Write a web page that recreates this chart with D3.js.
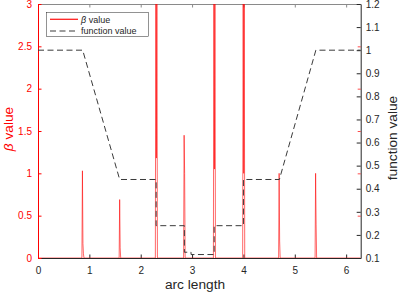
<!DOCTYPE html>
<html>
<head>
<meta charset="utf-8">
<script src="https://cdn.jsdelivr.net/npm/d3@7"></script>
<style>
  body { margin: 0; background: #fff; }
  svg { font-family: "Liberation Sans", Arial, sans-serif; }
</style>
</head>
<body>
<svg width="399" height="293"></svg>
<script>
// beta value samples (arc length, beta) - spikes
const betaX = [0, 0.855, 0.865, 0.875, 0.885, 0.895,
               1.58, 1.59, 1.60, 1.61,
               2.285, 2.295, 2.305, 2.315, 2.325,
               2.835, 2.845, 2.855, 2.865,
               3.415, 3.425, 3.435, 3.445, 3.455,
               3.985, 3.995, 4.005, 4.015, 4.025,
               4.685, 4.695, 4.705, 4.715,
               5.395, 5.405, 5.415, 5.425,
               6.2832];
const betaY = [0, 0, 1.03, 0.17, 0.05, 0,
               0, 0.69, 0.12, 0,
               0, 3.6, 1.18, 3.6, 0,
               0, 1.45, 1.0, 0,
               0, 3.6, 1.05, 3.6, 0,
               0, 3.6, 1.0, 3.6, 0,
               0, 1.0, 0.2, 0,
               0, 1.0, 0.4, 0,
               0];

// function value samples
const funcX = [0, 0.87, 1.59, 2.30, 2.30, 2.85, 2.85, 2.98, 2.98, 3.43, 3.43, 4.00, 4.00, 4.70, 5.41, 6.2832];
const funcY = [1.0, 1.0, 0.44, 0.44, 0.24, 0.24, 0.125, 0.125, 0.115, 0.115, 0.24, 0.24, 0.44, 0.44, 1.0, 1.0];

const xTicks = [0, 1, 2, 3, 4, 5, 6];
const leftTicks = [0, 0.5, 1, 1.5, 2, 2.5, 3];
const rightTicks = [0.1, 0.2, 0.3, 0.4, 0.5, 0.6, 0.7, 0.8, 0.9, 1, 1.1, 1.2];

const margin = { left: 38, right: 360.7, top: 4, bottom: 258 };
const RED = "#ff0000";
const DARK = "#262626";
const fmt = d3.format("~g");

const svg = d3.select("svg");

let xScale = d3.scaleLinear().domain([0, 2 * Math.PI]).range([margin.left, margin.right]);
let yLeft = d3.scaleLinear().domain([0, 3]).range([margin.bottom, margin.top]);
let yRight = d3.scaleLinear().domain([0.1, 1.2]).range([margin.bottom, margin.top]);

svg.append("defs").append("clipPath").attr("id", "plotclip")
    .append("rect")
    .attr("x", margin.left).attr("y", margin.top)
    .attr("width", margin.right - margin.left)
    .attr("height", margin.bottom - margin.top);

// Top box line with ticks
svg.append("g")
    .attr("transform", "translate(0," + margin.top + ")")
    .call(d3.axisTop(xScale).tickValues(xTicks).tickSizeInner(-3.5).tickSizeOuter(0).tickFormat(""))
    .call(g => g.selectAll("line,path").attr("stroke", "#8a8a8a"));

// Bottom axis
svg.append("g")
    .attr("transform", "translate(0," + margin.bottom + ")")
    .call(d3.axisBottom(xScale).tickValues(xTicks).tickSizeInner(-3.5).tickSizeOuter(0).tickPadding(8.5).tickFormat(fmt))
    .call(g => g.selectAll("line,path").attr("stroke", DARK))
    .call(g => g.selectAll("text").attr("fill", DARK).style("font-size", "10px"));

// Left axis (red)
svg.append("g")
    .attr("transform", "translate(" + margin.left + ",0)")
    .call(d3.axisLeft(yLeft).tickValues(leftTicks).tickSizeInner(-3.5).tickSizeOuter(0).tickPadding(6).tickFormat(fmt))
    .call(g => g.selectAll("line,path").attr("stroke", RED))
    .call(g => g.selectAll("text").attr("fill", RED).style("font-size", "10px"));

// Right axis (black) plus mirrored red ticks
svg.append("g")
    .attr("transform", "translate(" + margin.right + ",0)")
    .call(d3.axisRight(yRight).tickValues(rightTicks).tickSizeInner(-4).tickSizeOuter(0).tickPadding(5).tickFormat(fmt))
    .call(g => g.selectAll("line,path").attr("stroke", DARK))
    .call(g => g.selectAll("text").attr("fill", DARK).style("font-size", "10px"));

svg.append("g")
    .attr("transform", "translate(" + margin.right + ",0)")
    .call(d3.axisRight(yLeft).tickValues(leftTicks.slice(1, 6)).tickSizeInner(-3).tickSizeOuter(0).tickFormat(""))
    .call(g => g.select("path").remove())
    .call(g => g.selectAll("line").attr("stroke", RED).attr("stroke-opacity", 0.7));

const plot = svg.append("g").attr("clip-path", "url(#plotclip)");

// beta value line
let betaLine = d3.line()
    .x(function (d, i) { return xScale(betaX[i]); })
    .y(function (d) { return yLeft(d); });

plot.append("path")
    .datum(betaY)
    .attr("d", betaLine)
    .attr("fill", "none")
    .attr("stroke", RED)
    .attr("stroke-width", 0.8)
    .attr("stroke-opacity", 0.75);

// function value line (dashed)
let funcLine = d3.line()
    .x(function (d, i) { return xScale(funcX[i]); })
    .y(function (d) { return yRight(d); });

plot.append("path")
    .datum(funcY)
    .attr("d", funcLine)
    .attr("fill", "none")
    .attr("stroke", "#3a3a3a")
    .attr("stroke-width", 1)
    .attr("stroke-dasharray", "6,3.5");

// Legend
const legend = svg.append("g");
legend.append("rect")
    .attr("x", 46.25).attr("y", 12.25)
    .attr("width", 102).attr("height", 24)
    .attr("fill", "#fff")
    .attr("stroke", DARK)
    .attr("stroke-width", 0.5);
legend.append("path")
    .attr("d", "M50,19.3H78")
    .attr("fill", "none")
    .attr("stroke", "#ff2020")
    .attr("stroke-width", 1.3);
legend.append("line")
    .attr("x1", 50).attr("x2", 78).attr("y1", 31).attr("y2", 31)
    .attr("stroke", "#3a3a3a").attr("stroke-dasharray", "6,3.5");
const lt1 = legend.append("text")
    .attr("x", 81).attr("y", 22.8)
    .style("font-size", "9px").attr("fill", DARK);
lt1.append("tspan").style("font-style", "italic").text("β");
lt1.append("tspan").text(" value");
legend.append("text")
    .attr("x", 81).attr("y", 34.3)
    .style("font-size", "9px").attr("fill", DARK)
    .text("function value");

// x-axis label
svg.append("text")
    .attr("x", 195).attr("y", 289)
    .style("text-anchor", "middle")
    .style("font-size", "13.7px")
    .attr("fill", DARK)
    .text("arc length");

// left y-axis label
const yl = svg.append("text")
    .attr("transform", "translate(13,129) rotate(-90)")
    .style("text-anchor", "middle")
    .style("font-size", "13.7px")
    .attr("fill", RED);
yl.append("tspan").style("font-style", "italic").text("β");
yl.append("tspan").text(" value");

// right y-axis label
svg.append("text")
    .attr("transform", "translate(397,138) rotate(-90)")
    .style("text-anchor", "middle")
    .style("font-size", "13.7px")
    .attr("fill", DARK)
    .text("function value");
</script>
</body>
</html>
